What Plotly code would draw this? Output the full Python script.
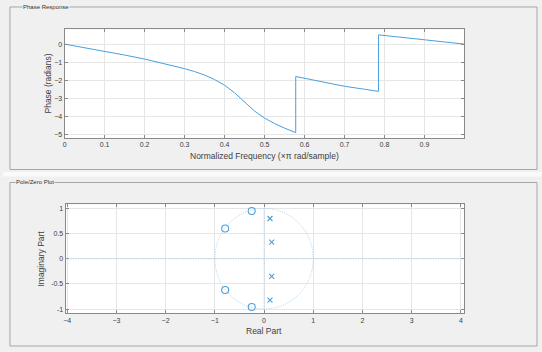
import plotly.graph_objects as go

# ---- data ----
freq = [0, 0.05, 0.1, 0.15, 0.2, 0.25, 0.3, 0.325, 0.35, 0.375, 0.4, 0.425, 0.45, 0.475,
        0.5, 0.525, 0.55, 0.578, 0.578, 0.617, 0.65, 0.7, 0.75, 0.785, 0.785,
        0.8, 0.85, 0.9, 0.95, 1.0]
phase = [0, -0.19, -0.39, -0.60, -0.82, -1.07, -1.35, -1.51, -1.70, -1.95, -2.26, -2.68, -3.19, -3.68,
         -4.07, -4.37, -4.62, -4.87, -1.78, -1.96, -2.10, -2.32, -2.48, -2.60, 0.51,
         0.47, 0.36, 0.24, 0.12, 0.0]

zeros_re = [-0.25, -0.79, -0.79, -0.25]
zeros_im = [0.95, 0.60, -0.62, -0.96]
poles_re = [0.12, 0.155, 0.155, 0.12]
poles_im = [0.80, 0.33, -0.35, -0.82]

freq_ticks = [0, 0.1, 0.2, 0.3, 0.4, 0.5, 0.6, 0.7, 0.8, 0.9]
phase_ticks = [-5, -4, -3, -2, -1, 0]
re_ticks = [-4, -3, -2, -1, 0, 1, 2, 3, 4]
im_ticks = [-1, -0.5, 0, 0.5, 1]

W, H = 542, 352
BLUE = "#4a9fdc"
LIGHT = "#9fcdef"
AX = "#8a8a8a"
GRID = "#e6e6e6"
TXT = "#404040"
FONT = "Liberation Sans, Arial, sans-serif"

def px(x):
    return x / W

def py(y):
    return 1 - y / H

fig = go.Figure()
fig.add_trace(go.Scatter(x=freq, y=phase, mode="lines", line=dict(color=BLUE, width=1),
                         xaxis="x", yaxis="y", showlegend=False))
fig.add_trace(go.Scatter(x=zeros_re, y=zeros_im, mode="markers",
                         marker=dict(symbol="circle-open", size=7, color=BLUE, line=dict(width=1.1)),
                         xaxis="x2", yaxis="y2", showlegend=False))
fig.add_trace(go.Scatter(x=poles_re, y=poles_im, mode="markers",
                         marker=dict(symbol="x-thin-open", size=5, color=BLUE, line=dict(width=1.1, color=BLUE)),
                         xaxis="x2", yaxis="y2", showlegend=False))

axcommon = dict(showline=True, linecolor=AX, linewidth=1, mirror="ticks", ticks="inside",
                ticklen=3, tickcolor=AX, showgrid=True, gridcolor=GRID, zeroline=False,
                tickfont=dict(size=7, color=TXT, family=FONT))

fig.update_layout(
    width=W, height=H, margin=dict(l=0, r=0, t=0, b=0),
    paper_bgcolor="#f0f0f0", plot_bgcolor="white",
    font=dict(family=FONT, color=TXT),
    xaxis=dict(domain=[px(62), px(464)], range=[0, 1], tickvals=freq_ticks,
               ticktext=[f"{t:g}" for t in freq_ticks], anchor="y", **axcommon),
    yaxis=dict(domain=[py(138.3), py(29.5)], range=[-5.16, 0.81], tickvals=phase_ticks,
               anchor="x", **axcommon),
    xaxis2=dict(domain=[px(63), px(464)], range=[-4.03, 4.07], tickvals=re_ticks,
                anchor="y2", **axcommon),
    yaxis2=dict(domain=[py(314), py(205)], range=[-1.08, 1.08], tickvals=im_ticks,
                ticktext=[f"{t:g}" for t in im_ticks], anchor="x2", **axcommon),
)

shapes = []
shapes.append(dict(type="rect", xref="paper", yref="paper", x0=0, x1=1, y0=py(177), y1=py(172.5),
                   fillcolor="#fafafa", line=dict(width=0), layer="below"))
for (t, b) in [(7, 170), (183, 347)]:
    shapes.append(dict(type="rect", xref="paper", yref="paper", x0=px(7), x1=px(537),
                       y0=py(b), y1=py(t), line=dict(color="#a6a6a6", width=1), layer="below"))
DOT = "1px,1.5px"
shapes.append(dict(type="circle", xref="x2", yref="y2", x0=-1, y0=-1, x1=1, y1=1,
                   line=dict(color=LIGHT, width=1, dash=DOT)))
shapes.append(dict(type="line", xref="x2 domain", yref="y2", x0=0, x1=1, y0=0, y1=0,
                   line=dict(color=LIGHT, width=1, dash=DOT)))
shapes.append(dict(type="line", xref="x2", yref="y2", x0=0, x1=0, y0=-1, y1=1,
                   line=dict(color=LIGHT, width=1, dash=DOT)))
fig.update_layout(shapes=shapes)

ann = []
def A(text, x, y, size, **kw):
    d = dict(text=text, x=px(x), y=py(y), xref="paper", yref="paper", showarrow=False,
             font=dict(size=size, color=kw.pop("color", TXT), family=FONT))
    d.update(kw)
    ann.append(d)

A("Phase Response", 19, 7, 6, xanchor="left", yanchor="middle", bgcolor="#f0f0f0", borderpad=0, color="#333333")
A("Pole/Zero Plot", 12.5, 182.5, 6, xanchor="left", yanchor="middle", bgcolor="#f0f0f0", borderpad=0, color="#333333")
A("Normalized Frequency (×π rad/sample)", 263, 156.5, 8.5, xanchor="center", yanchor="middle")
A("Phase (radians)", 45, 84, 8.5, xanchor="center", yanchor="middle", textangle=-90)
A("Real Part", 262, 332, 8.5, xanchor="center", yanchor="middle")
A("Imaginary Part", 38, 259.5, 8.5, xanchor="center", yanchor="middle", textangle=-90)
fig.update_layout(annotations=ann)

fig.write_html("out.html")
